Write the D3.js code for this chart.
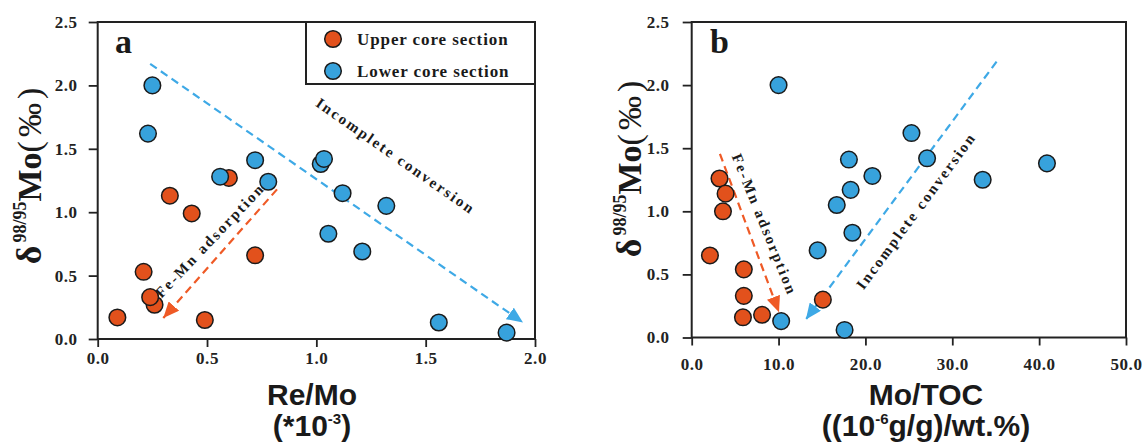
<!DOCTYPE html>
<html>
<head>
<meta charset="utf-8">
<script src="https://cdn.jsdelivr.net/npm/d3@7"></script>
<style>
  body { margin: 0; background: #fff; }
  svg { display: block; }
  .tick text { font-family: 'Times New Roman', 'Liberation Serif', serif; font-weight: bold; font-size: 17px; letter-spacing: 0.6px; fill: #222; }
  .tick line { stroke: #222; stroke-width: 1.8px; }
  .serif { font-family: 'Times New Roman', 'Liberation Serif', serif; fill: #1a1a1a; }
  .sans { font-family: Arial, 'Liberation Sans', sans-serif; font-weight: bold; fill: #1a1a1a; }
</style>
</head>
<body>
<svg id="chart" width="1148" height="446"></svg>
<script>
// data: [x, delta98/95Mo]
const upperA = [[0.09, 0.17], [0.21, 0.53], [0.26, 0.27], [0.24, 0.33], [0.49, 0.15], [0.43, 0.99], [0.72, 0.66], [0.33, 1.13], [0.60, 1.27]];
const lowerA = [[0.25, 2.00], [0.23, 1.62], [0.56, 1.28], [0.72, 1.41], [0.78, 1.24], [1.02, 1.38], [1.035, 1.42], [1.12, 1.15], [1.32, 1.05], [1.055, 0.83], [1.21, 0.69], [1.56, 0.13], [1.87, 0.05]];

const upperB = [[2.1, 0.65], [3.2, 1.26], [3.9, 1.14], [3.6, 1.00], [6.0, 0.54], [6.0, 0.33], [5.9, 0.16], [8.1, 0.18], [15.1, 0.30]];
const lowerB = [[10.0, 2.00], [10.3, 0.13], [14.5, 0.69], [16.7, 1.05], [18.5, 0.83], [17.6, 0.06], [18.1, 1.41], [18.3, 1.17], [20.8, 1.28], [25.3, 1.62], [27.1, 1.42], [33.5, 1.25], [40.9, 1.38]];

const yTicks = [0, 0.5, 1.0, 1.5, 2.0, 2.5];
const xTicksA = [0, 0.5, 1.0, 1.5, 2.0];
const xTicksB = [0, 10, 20, 30, 40, 50];

const seriesNames = ['Upper core section', 'Lower core section'];

// trend arrows [from, to] in data units
const arrowsA = [
  { from: [0.24, 2.17], to: [1.945, 0.13], kind: 'lower' },
  { from: [0.82, 1.18], to: [0.30, 0.165], kind: 'upper' },
];
const arrowsB = [
  { from: [3.25, 1.455], to: [10.05, 0.20], kind: 'upper' },
  { from: [35.1, 2.186], to: [13.14, 0.143], kind: 'lower' },
];
// arrow captions: position (data units) and angle
const notesA = [
  { text: 'Incomplete conversion', at: [1.35, 1.41], angle: 35 },
  { text: 'Fe-Mn adsorption', at: [0.53, 0.75], angle: -46.5 },
];
const notesB = [
  { text: 'Fe-Mn adsorption', at: [7.85, 0.88], angle: 68 },
  { text: 'Incomplete conversion', at: [26.3, 0.98], angle: -53.5 },
];

const fill = { upper: '#e2511c', lower: '#37a2dc' };
const dash = { upper: '#ef5a26', lower: '#3ea9e6' };

const svg = d3.select('#chart');

const defs = svg.append('defs');
['upper', 'lower'].forEach((k) => {
  defs.append('marker')
    .attr('id', `head-${k}`)
    .attr('markerUnits', 'userSpaceOnUse')
    .attr('viewBox', '0 0 16 14')
    .attr('refX', 16).attr('refY', 7)
    .attr('markerWidth', 16).attr('markerHeight', 14)
    .attr('orient', 'auto')
    .append('path')
    .attr('d', 'M0,0L16,7L0,14Z')
    .attr('fill', dash[k]);
});

function Panel(c) {
  const x = d3.scaleLinear(c.xDomain, c.xRange);
  const y = d3.scaleLinear([0, 2.5], c.yRange);
  const g = svg.append('g');

  // axes
  g.append('g')
    .attr('transform', `translate(0,${c.yRange[0]})`)
    .call(d3.axisBottom(x).tickValues(c.xTicks).tickSize(8).tickPadding(c.xPad).tickFormat(d3.format('.1f')))
    .call((s) => s.select('.domain').remove());
  g.append('g')
    .attr('transform', `translate(${c.xRange[0]},0)`)
    .call(d3.axisLeft(y).tickValues(yTicks).tickSize(9).tickPadding(c.yPad).tickFormat(d3.format('.1f')))
    .call((s) => s.select('.domain').remove());

  g.append('rect')
    .attr('x', c.xRange[0]).attr('y', c.yRange[1])
    .attr('width', c.xRange[1] - c.xRange[0])
    .attr('height', c.yRange[0] - c.yRange[1])
    .attr('fill', 'none').attr('stroke', '#222').attr('stroke-width', 2);

  // dashed trend arrows
  g.selectAll('line.trend')
    .data(c.arrows)
    .join('line')
    .classed('trend', true)
    .attr('x1', (d) => x(d.from[0])).attr('y1', (d) => y(d.from[1]))
    .attr('x2', (d) => x(d.to[0])).attr('y2', (d) => y(d.to[1]))
    .attr('stroke', (d) => dash[d.kind])
    .attr('stroke-width', 2.2)
    .attr('stroke-dasharray', '8,5')
    .attr('marker-end', (d) => `url(#head-${d.kind})`);

  g.selectAll('text.note')
    .data(c.notes)
    .join('text')
    .attr('class', 'note serif')
    .attr('text-anchor', 'middle')
    .attr('font-weight', 'bold')
    .attr('font-size', 15)
    .attr('letter-spacing', 2.2)
    .attr('transform', (d) => `translate(${x(d.at[0])},${y(d.at[1])}) rotate(${d.angle})`)
    .text((d) => d.text);

  // points, upper first so lower sits on top
  const pts = [...c.upper.map((p) => ({ p, k: 'upper' })), ...c.lower.map((p) => ({ p, k: 'lower' }))];
  g.selectAll('circle.pt')
    .data(pts)
    .join('circle')
    .classed('pt', true)
    .attr('cx', (d) => x(d.p[0]))
    .attr('cy', (d) => y(d.p[1]))
    .attr('r', 8.3)
    .attr('fill', (d) => fill[d.k])
    .attr('stroke', '#1a1a1a')
    .attr('stroke-width', 1.5);

  // panel letter
  g.append('text')
    .attr('class', 'serif')
    .attr('x', c.letterPos[0]).attr('y', c.letterPos[1])
    .attr('font-weight', 'bold').attr('font-size', 34)
    .text(c.letter);

  // y title
  const yt = g.append('text')
    .attr('class', 'serif')
    .attr('text-anchor', 'middle')
    .attr('font-weight', 'bold')
    .attr('transform', `translate(${c.yTitle[0]},${c.yTitle[1]}) rotate(-90)`);
  yt.append('tspan').attr('font-size', 36).text('δ');
  yt.append('tspan').attr('font-size', 18).attr('dx', 3).attr('dy', -15).text('98/95');
  yt.append('tspan').attr('font-size', 34).attr('dy', 15).text('Mo');
  yt.append('tspan').attr('font-size', 34).attr('font-weight', 'normal').attr('letter-spacing', 4).text('(‰)');

  // x title
  const [l1, l2] = c.xTitle;
  g.append('text')
    .attr('class', 'sans')
    .attr('text-anchor', 'middle')
    .attr('x', c.xTitlePos[0]).attr('y', c.xTitlePos[1])
    .attr('font-size', 30)
    .text(l1);
  const t2 = g.append('text')
    .attr('class', 'sans')
    .attr('text-anchor', 'middle')
    .attr('x', c.xTitlePos[0]).attr('y', c.xTitlePos[1] + 31)
    .attr('font-size', 30);
  t2.append('tspan').text(l2[0]);
  t2.append('tspan').attr('font-size', 15).attr('dy', -12).text(l2[1]);
  t2.append('tspan').attr('dy', 12).text(l2[2]);

  return { x, y, g };
}

Panel({
  xDomain: [0, 2], xRange: [97.7, 535], yRange: [339, 22],
  xTicks: xTicksA, xPad: 5, yPad: 11,
  upper: upperA, lower: lowerA, arrows: arrowsA, notes: notesA,
  letter: 'a', letterPos: [115, 53],
  yTitle: [41, 174],
  xTitle: ['Re/Mo', ['(*10', '-3', ')']], xTitlePos: [312, 405],
});

Panel({
  xDomain: [0, 50], xRange: [691.7, 1126], yRange: [337.5, 22],
  xTicks: xTicksB, xPad: 12, yPad: 13,
  upper: upperB, lower: lowerB, arrows: arrowsB, notes: notesB,
  letter: 'b', letterPos: [710, 53],
  yTitle: [641, 167],
  xTitle: ['Mo/TOC', ['((10', '-6', 'g/g)/wt.%)']], xTitlePos: [926, 405],
});

// legend (panel a)
const legend = svg.append('g');
legend.append('rect')
  .attr('x', 306).attr('y', 22).attr('width', 229).attr('height', 62)
  .attr('fill', '#fff').attr('stroke', '#222').attr('stroke-width', 2);
const items = legend.selectAll('g.item')
  .data(seriesNames)
  .join('g')
  .attr('transform', (d, i) => `translate(333,${39 + i * 32})`);
items.append('circle')
  .attr('r', 8.3)
  .attr('fill', (d, i) => (i === 0 ? fill.upper : fill.lower))
  .attr('stroke', '#1a1a1a').attr('stroke-width', 1.5);
items.append('text')
  .attr('class', 'serif')
  .attr('x', 24).attr('y', 6)
  .attr('font-weight', 'bold').attr('font-size', 17).attr('letter-spacing', 0.9)
  .text((d) => d);
</script>
</body>
</html>
